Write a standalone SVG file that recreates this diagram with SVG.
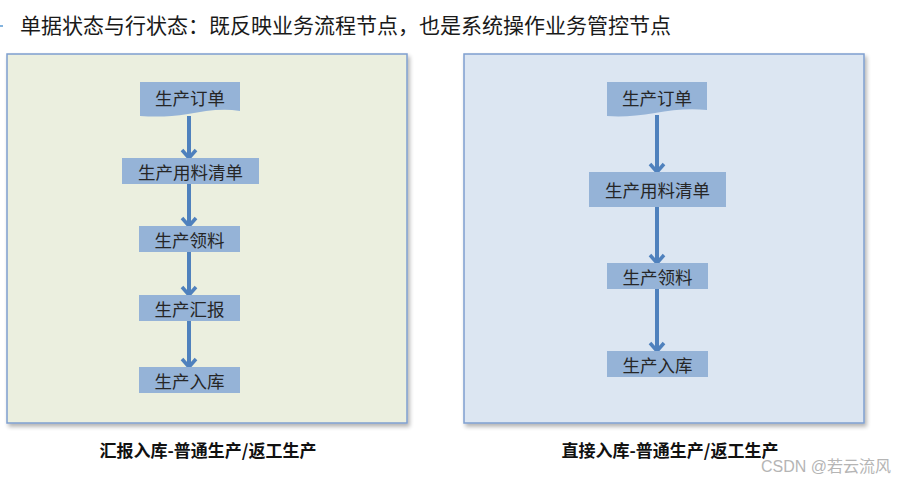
<svg xmlns="http://www.w3.org/2000/svg" width="912" height="483" viewBox="0 0 912 483">
<defs>
<filter id="sh" x="-5%" y="-5%" width="115%" height="115%">
<feGaussianBlur in="SourceAlpha" stdDeviation="2"/>
<feOffset dx="2" dy="3" result="b"/>
<feComponentTransfer><feFuncA type="linear" slope="0.3"/></feComponentTransfer>
<feMerge><feMergeNode/><feMergeNode in="SourceGraphic"/></feMerge>
</filter>
<marker id="ah" markerWidth="18" markerHeight="18" viewBox="0 0 18 18" refX="15" refY="9" orient="auto" markerUnits="userSpaceOnUse">
<polyline points="7,2 15,9 7,16" fill="none" stroke="#4f81bd" stroke-width="3.5" stroke-linejoin="miter"/>
</marker>
</defs>
<style>
.title{font-family:"Noto Sans CJK SC","Liberation Sans",sans-serif;font-size:21px;fill:#1a1a1a}
.node{fill:#95b3d7}
.nt{font-family:"Noto Sans CJK SC","Liberation Serif",serif;font-size:17.5px;fill:#262626;text-anchor:middle;dominant-baseline:central}
.cap{font-family:"Noto Sans CJK SC","Liberation Sans",sans-serif;font-size:17px;font-weight:bold;fill:#111;text-anchor:middle}
.conn{stroke:#4f81bd;stroke-width:4;fill:none;marker-end:url(#ah)}
.panel{stroke:#7f9fcf;stroke-width:1.5}
</style>
<rect width="912" height="483" fill="#ffffff"/>
<line x1="0" y1="26" x2="3" y2="26" stroke="#5b9bd5" stroke-width="1.5"/>
<text class="title" x="20" y="33">单据状态与行状态：既反映业务流程节点，也是系统操作业务管控节点</text>

<g id="panel-left"><rect class="panel" x="7" y="54" width="400" height="369" fill="#ebefdf" filter="url(#sh)"/></g>
<g id="panel-right"><rect class="panel" x="464" y="54" width="400" height="369" fill="#dce6f2" filter="url(#sh)"/></g>

<g id="connectors">
<line class="conn" x1="189" y1="116" x2="189" y2="158"/>
<line class="conn" x1="189" y1="184" x2="189" y2="226"/>
<line class="conn" x1="189" y1="252" x2="189" y2="295"/>
<line class="conn" x1="189" y1="321" x2="189" y2="367"/>
<line class="conn" x1="657" y1="115" x2="657" y2="172"/>
<line class="conn" x1="657" y1="207" x2="657" y2="263"/>
<line class="conn" x1="657" y1="289" x2="657" y2="351"/>
</g>

<g id="l-order"><path class="node" d="M140 82 H240 V111 C222 108 205 111 188 114 C170 117 155 117 140 116 Z"/><text class="nt" x="190" y="97">生产订单</text></g>
<g id="l-bom"><rect class="node" x="122" y="158" width="137" height="26"/><text class="nt" x="190.5" y="171">生产用料清单</text></g>
<g id="l-pick"><rect class="node" x="139" y="226" width="101" height="26"/><text class="nt" x="189.5" y="239">生产领料</text></g>
<g id="l-report"><rect class="node" x="139" y="295" width="101" height="26"/><text class="nt" x="189.5" y="308">生产汇报</text></g>
<g id="l-stock"><rect class="node" x="139" y="367" width="101" height="26"/><text class="nt" x="189.5" y="380">生产入库</text></g>

<g id="r-order"><path class="node" d="M607 82 H707 V110 C689 108 672 110 655 113 C637 116 622 117 607 116 Z"/><text class="nt" x="657" y="97">生产订单</text></g>
<g id="r-bom"><rect class="node" x="589" y="172" width="137" height="35"/><text class="nt" x="657.5" y="189.5">生产用料清单</text></g>
<g id="r-pick"><rect class="node" x="607" y="263" width="101" height="26"/><text class="nt" x="657.5" y="276">生产领料</text></g>
<g id="r-stock"><rect class="node" x="607" y="351" width="101" height="26"/><text class="nt" x="657.5" y="364">生产入库</text></g>

<text class="cap" x="208" y="457">汇报入库-普通生产/返工生产</text>
<text class="cap" x="670" y="457">直接入库-普通生产/返工生产</text>
<text x="761" y="472" font-family="Liberation Sans,'Noto Sans CJK SC',sans-serif" font-size="16" fill="#b5b5b5">CSDN @若云流风</text>
</svg>
